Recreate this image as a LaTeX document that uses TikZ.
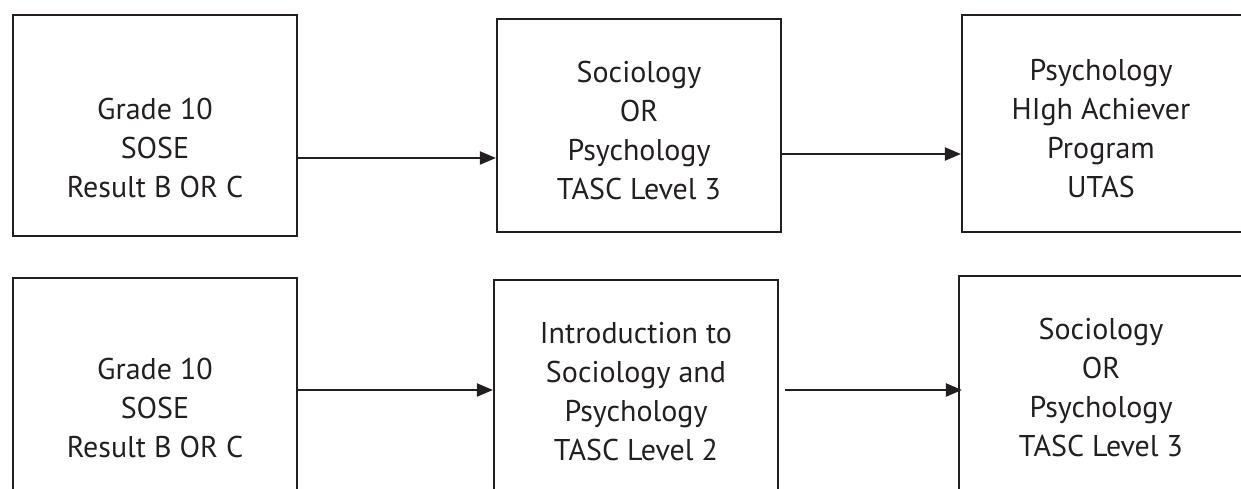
\documentclass[tikz,border=0pt]{standalone}
\usepackage{fontspec}
\setmainfont{PT Sans}
\usetikzlibrary{arrows.meta}
\definecolor{ink}{HTML}{231F20}
\begin{document}
\begin{tikzpicture}[x=1pt,y=-1pt,
  box/.style={draw=ink,line width=2.2pt,rectangle,inner sep=0pt},
  txt/.style={text=ink,align=center,inner sep=0pt,anchor=base,
    font=\fontsize{30}{38.8}\selectfont},
  arr/.style={draw=ink,line width=2.2pt,-{Triangle[length=16pt,width=13pt]}}]
\useasboundingbox (0,0) rectangle (1241,489);
\clip (0,0) rectangle (1241,489);
% top row
\node[box,minimum width=284pt,minimum height=221pt] (b1) at (155,125.5) {};
\node[box,minimum width=284pt,minimum height=213pt] (b2) at (639,125.5) {};
\node[box,minimum width=284pt,minimum height=217pt] (b3) at (1104,123.5) {};
% bottom row
\node[box,minimum width=284pt,minimum height=260pt] (b4) at (155,408) {};
\node[box,minimum width=284pt,minimum height=260pt] (b5) at (636,410) {};
\node[box,minimum width=284pt,minimum height=260pt] (b6) at (1101,406) {};
% texts (anchored at the baseline of the last line)
\node[txt] (t1) at (155,197) {Grade 10\\SOSE\\Result B OR C};
\node[txt] (t2) at (639,199) {Sociology\\OR\\Psychology\\TASC Level 3};
\node[txt] (t3) at (1101,197) {Psychology\\HIgh Achiever\\Program\\UTAS};
\node[txt] (t4) at (155,457) {Grade 10\\SOSE\\Result B OR C};
\node[txt] (t5) at (636,460) {Introduction to\\Sociology and\\Psychology\\TASC Level 2};
\node[txt] (t6) at (1101,456) {Sociology\\OR\\Psychology\\TASC Level 3};
% arrows
\draw[arr] (b1.east |- 0,158) -- (b2.west |- 0,158);
\draw[arr] (b2.east |- 0,154) -- (b3.west |- 0,154);
\draw[arr] (b4.east |- 0,390) -- (b5.west |- 0,390);
\draw[arr,shorten <=6pt] (b5.east |- 0,390) -- ([xshift=4pt]b6.west |- 0,390);
\end{tikzpicture}
\end{document}
